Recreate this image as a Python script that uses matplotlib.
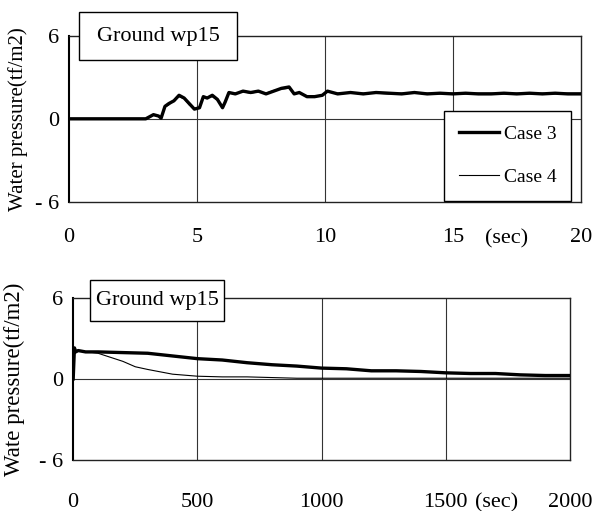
import matplotlib.pyplot as plt
from matplotlib.patches import Rectangle

plt.rcParams['font.family'] = ['Liberation Serif', 'DejaVu Serif']

# top panel: 0-20 sec
t_top = [0, 3.0, 3.1, 3.3, 3.5, 3.6, 3.75, 3.9, 4.1, 4.3, 4.5, 4.7, 4.9, 5.1, 5.25,
         5.4, 5.6, 5.8, 6.0, 6.1, 6.25, 6.5, 6.8, 7.1, 7.4, 7.7, 8.0, 8.3, 8.6, 8.8,
         9.0, 9.3, 9.6, 9.9, 10.1, 10.5, 11, 11.5, 12, 12.5, 13, 13.5, 14, 14.5, 15,
         15.5, 16, 16.5, 17, 17.5, 18, 18.5, 19, 19.5, 20]
case3_top = [0, 0, 0.1, 0.3, 0.2, 0.05, 0.9, 1.1, 1.3, 1.7, 1.5, 1.1, 0.7, 0.8, 1.6,
             1.5, 1.7, 1.4, 0.8, 1.2, 1.9, 1.8, 2.0, 1.9, 2.0, 1.8, 2.0, 2.2, 2.3, 1.8,
             1.9, 1.6, 1.6, 1.7, 2.0, 1.8, 1.9, 1.8, 1.9, 1.85, 1.8, 1.9, 1.8, 1.85, 1.8,
             1.85, 1.8, 1.8, 1.85, 1.8, 1.85, 1.8, 1.85, 1.8, 1.8]
case4_top = [0, 0, 0.05, 0.25, 0.2, 0.0, 0.85, 1.0, 1.35, 1.6, 1.45, 1.0, 0.75, 0.85, 1.55,
             1.55, 1.6, 1.35, 0.85, 1.25, 1.85, 1.85, 1.95, 1.85, 1.95, 1.85, 2.05, 2.15, 2.2, 1.85,
             1.85, 1.65, 1.55, 1.75, 1.95, 1.85, 1.85, 1.85, 1.85, 1.8, 1.85, 1.85, 1.85, 1.8, 1.85,
             1.8, 1.85, 1.85, 1.8, 1.85, 1.8, 1.85, 1.8, 1.85, 1.85]

# bottom panel: 0-2000 sec
t_bot3 = [0, 5, 10, 20, 50, 100, 200, 300, 400, 500, 600, 700, 800, 900, 1000,
          1100, 1200, 1300, 1400, 1500, 1600, 1700, 1800, 1900, 2000]
case3_bot = [0, 2.3, 2.0, 2.1, 2.0, 2.0, 1.95, 1.9, 1.7, 1.5, 1.4, 1.2, 1.05, 0.95, 0.8,
             0.75, 0.6, 0.6, 0.55, 0.45, 0.4, 0.4, 0.3, 0.25, 0.25]
t_bot4 = [0, 5, 10, 20, 100, 200, 250, 300, 400, 500, 600, 700, 800, 900, 1000, 1500, 2000]
case4_bot = [0, 2.2, 2.0, 2.1, 1.9, 1.3, 0.9, 0.7, 0.35, 0.2, 0.15, 0.15, 0.1, 0.05, 0.05, 0.05, 0.05]

W, H = 595, 511
fig = plt.figure(figsize=(5.95, 5.11), dpi=100)
ax1 = fig.add_axes([0.116, 0.605, 0.860, 0.325])
ax2 = fig.add_axes([0.123, 0.100, 0.835, 0.317])


def style(ax, xlim, xticks, xlabels, ylabel, labelx, xpad, ylsize):
    ax.set_xlim(xlim)
    ax.set_ylim(-6, 6)
    ax.set_yticks([-6, 0, 6])
    ax.set_yticklabels(['- 6', '0', '6'])
    ax.set_xticks(xticks)
    ax.set_xticklabels(xlabels)
    ax.tick_params(axis='x', length=0, pad=xpad, labelsize=16)
    ax.tick_params(axis='y', length=0, pad=7, labelsize=16)
    for x in xticks[1:-1]:
        ax.axvline(x, color='#333333', lw=0.8, zorder=1)
    ax.axhline(0, color='#333333', lw=0.8, zorder=1)
    for s in ax.spines.values():
        s.set_color('#222222')
        s.set_linewidth(1.0)
    ax.spines['left'].set_linewidth(1.5)
    ax.spines['left'].set_color('black')
    ax.set_ylabel(ylabel, fontsize=ylsize)
    ax.yaxis.set_label_coords(labelx, 0.5)


style(ax1, (0, 20), [0, 5, 10, 15, 20], ['0', '5', '10', '15', '20'],
      'Water pressure(tf/m2)', -0.080, 18.5, 15)
style(ax2, (0, 2000), [0, 500, 1000, 1500, 2000], ['0', '500', '1000', '1500', '2000'],
      'Wate pressure(tf/m2)', -0.097, 23.5, 16.5)

ax1.plot(t_top, case4_top, color='black', lw=0.8, label='Case 4', zorder=3)
ax1.plot(t_top, case3_top, color='black', lw=2.4, label='Case 3', zorder=4)
ax2.plot(t_bot4, case4_bot, color='black', lw=0.8, zorder=3)
ax2.plot(t_bot3, case3_bot, color='black', lw=2.4, zorder=4)

ax1.text(17.1, -0.22, '(sec)', fontsize=16, ha='center', va='center',
         transform=ax1.get_xaxis_transform(), clip_on=False)
ax2.text(1705, -0.265, '(sec)', fontsize=16, ha='center', va='center',
         transform=ax2.get_xaxis_transform(), clip_on=False)

# title boxes (pixel extents)
for (x0, x1, y0, y1) in [(79, 237, 12, 60), (90, 224, 280, 321)]:
    fig.patches.append(Rectangle((x0 / W, 1 - y1 / H), (x1 - x0) / W, (y1 - y0) / H,
                                 transform=fig.transFigure, facecolor='white',
                                 edgecolor='black', lw=1.0, zorder=5))
    fig.text((x0 + x1) / 2 / W, 1 - (y0 + y1) / 2 / H, 'Ground wp15', fontsize=16,
             ha='center', va='center', zorder=6)

h, l = ax1.get_legend_handles_labels()
leg = ax1.legend(h[::-1], l[::-1], loc='upper left', bbox_to_anchor=(444 / W, 1 - 111 / H),
                 bbox_transform=fig.transFigure, fontsize=14, frameon=True, fancybox=False,
                 edgecolor='black', framealpha=1, handlelength=2.1, handletextpad=0.25,
                 labelspacing=1.3, borderpad=0.75, borderaxespad=0)
leg.get_frame().set_linewidth(1.0)

fig.savefig('out.png', dpi=100)
